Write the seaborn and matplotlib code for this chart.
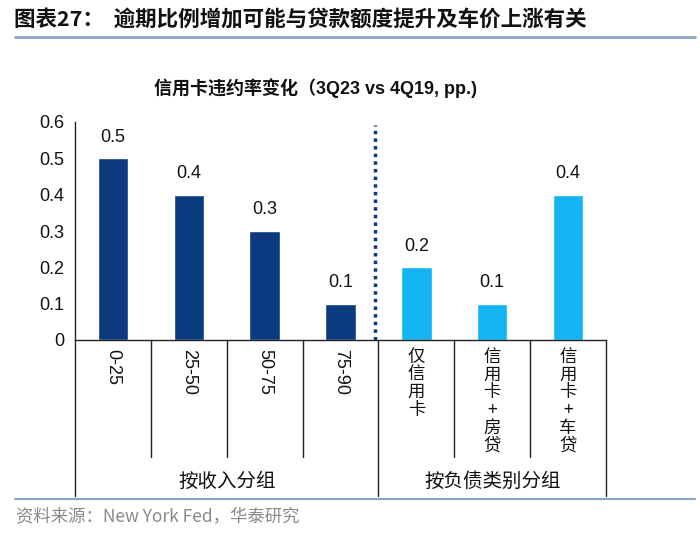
import matplotlib
matplotlib.use("Agg")
import matplotlib.pyplot as plt
import matplotlib.transforms as mtransforms
import seaborn as sns
import pandas as pd

# ---------------------------
# DATA
# ---------------------------
categories = ["0-25", "25-50", "50-75", "75-90", "仅信用卡", "信用卡+房贷", "信用卡+车贷"]
values = [0.5, 0.4, 0.3, 0.1, 0.2, 0.1, 0.4]
groups = ["按收入分组"] * 4 + ["按负债类别分组"] * 3
group_names = ["按收入分组", "按负债类别分组"]
yticks = [0, 0.1, 0.2, 0.3, 0.4, 0.5, 0.6]

title = "图表27：  逾期比例增加可能与贷款额度提升及车价上涨有关"
chart_title = "信用卡违约率变化（3Q23 vs 4Q19, pp.)"
source = "资料来源：New York Fed，华泰研究"

NAVY = "#0B3A7E"
LIGHT = "#12B4F2"
RULE = "#8CA3C4"

# ---------------------------
# STYLE
# ---------------------------
sns.set_theme(style="white")
plt.rcParams["font.family"] = ["Liberation Sans", "Noto Sans CJK SC", "DejaVu Sans"]
CJK = ["Noto Sans CJK SC", "DejaVu Sans"]

df = pd.DataFrame({"cat": categories, "val": values, "grp": groups})

fig = plt.figure(figsize=(7, 5.35), dpi=100)
ax = fig.add_axes([75 / 700, 1 - 340 / 535, 531 / 700, 218 / 535])

sns.barplot(data=df, x="cat", y="val", hue="grp", hue_order=group_names,
            palette=[NAVY, LIGHT], dodge=False, width=0.4, legend=False,
            saturation=1, ax=ax)

for cont in ax.containers:
    ax.bar_label(cont, fmt="%.1f", padding=9, fontsize=13, color="#111111")

ax.set_ylim(0, 0.6)
ax.set_xlim(-0.5, len(categories) - 0.5)
ax.set_yticks(yticks)
ax.set_yticklabels([f"{t:g}" for t in yticks], fontsize=13, color="#111111")
ax.tick_params(axis="y", length=0, pad=8)
ax.set_xticks([])
ax.set_xlabel("")
ax.set_ylabel("")
for s in ["top", "right"]:
    ax.spines[s].set_visible(False)
for s in ["left", "bottom"]:
    ax.spines[s].set_color("#222222")
    ax.spines[s].set_linewidth(1.0)

trans = mtransforms.blended_transform_factory(ax.transData, ax.transAxes)

# category labels
for i, c in enumerate(categories):
    if groups[i] == group_names[0]:
        ax.text(i, -0.04, c, transform=trans, rotation=-90, ha="center", va="top",
                fontsize=13, color="#111111")
    else:
        ax.text(i, -0.035, "\n".join(c), transform=trans, ha="center", va="top",
                fontsize=12.5, family=CJK, color="#111111", linespacing=0.98)

# separator lines below axis
n = len(categories)
for b in range(n + 1):
    xb = b - 0.5
    outer = b in (0, 4, n)
    ax.plot([xb, xb], [0, -0.715 if outer else -0.537], transform=trans,
            color="#222222", lw=1.0, clip_on=False)

# group labels
ax.text(1.5, -0.65, group_names[0], transform=trans, ha="center", va="center",
        fontsize=14, family=CJK, color="#111111")
ax.text(5.0, -0.65, group_names[1], transform=trans, ha="center", va="center",
        fontsize=14, family=CJK, color="#111111")

# dotted divider
ax.plot([3.45, 3.45], [0, 0.985], transform=trans, color=NAVY, lw=2.5,
        linestyle=(0, (1, 1.2)), clip_on=False)

# titles and source
fig.text(315 / 700, 1 - 88 / 535, chart_title, ha="center", va="center",
         fontsize=13, fontweight="bold", color="#111111")
fig.text(14 / 700, 1 - 20 / 535, title, ha="left", va="center",
         fontsize=15.5, fontweight="bold", family=CJK, color="#111111")
fig.add_artist(plt.Line2D([15 / 700, 695 / 700], [1 - 37 / 535] * 2,
                          color=RULE, lw=2))
fig.add_artist(plt.Line2D([15 / 700, 695 / 700], [1 - 499 / 535] * 2,
                          color=RULE, lw=1.5))
fig.text(16 / 700, 1 - 517 / 535, source, ha="left", va="center",
         fontsize=12.5, family=CJK, color="#8A8A8A")

fig.savefig("out.png", dpi=100)
